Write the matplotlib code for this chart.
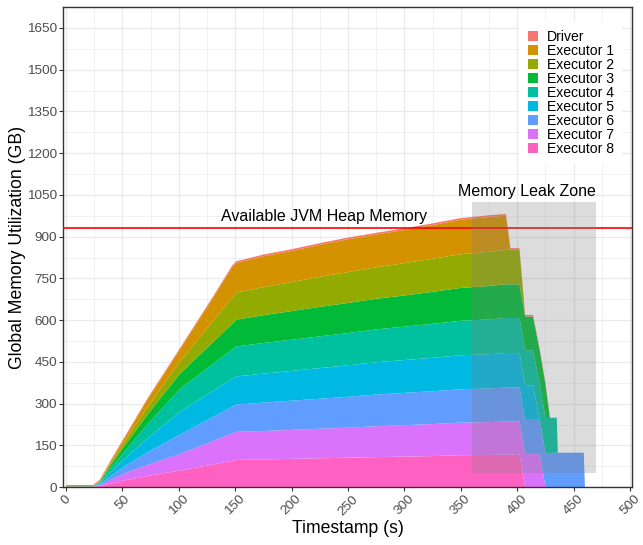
import matplotlib
matplotlib.use("Agg")
import matplotlib.pyplot as plt
from matplotlib.patches import Patch, Rectangle

plt.rcParams['font.family'] = ['Liberation Sans', 'DejaVu Sans']

# sample times (s)
t = [0, 24, 30, 40, 51, 72, 101, 131, 147, 151, 175, 200, 225, 250, 275, 300,
     325, 350, 375, 390, 394, 402, 407, 414, 420, 425, 429, 435, 436, 459, 460]

# memory per process (GB)
driver = [4, 4, 4, 4, 4, 4, 5, 5, 6, 6, 6, 6, 6, 6, 6, 6,
          6, 6, 6, 6, 6, 6, 6, 6, 6, 6, 0, 0, 0, 0, 0]
exec1 = [0.5, 0.5, 1.5, 6, 13, 27, 44, 84, 110, 107, 111, 112, 115, 118, 118, 119,
         121, 124, 125, 123, 0, 0, 0, 0, 0, 0, 0, 0, 0, 0, 0]
exec2 = [0.5, 0.5, 2, 8, 14, 27, 43, 77, 93, 97, 101, 104, 108, 111, 113, 116,
         119, 121, 123, 124, 124, 124, 0, 0, 0, 0, 0, 0, 0, 0, 0]
exec3 = [0.5, 0.5, 2.5, 11, 20, 35, 55, 79, 92, 96, 100, 103, 106, 108, 110, 112,
         115, 118, 120, 121, 121, 121, 121, 121, 121, 121, 0, 0, 0, 0, 0]
exec4 = [0.5, 0.5, 3.5, 15, 25, 50, 82, 97, 106, 108, 110, 112, 114, 116, 118, 120,
         122, 124, 125, 126, 126, 126, 126, 126, 126, 126, 126, 126, 0, 0, 0]
exec5 = [0.5, 0.5, 3.5, 15, 26, 50, 82, 94, 99, 101, 104, 107, 110, 113, 116, 118,
         120, 122, 123, 124, 124, 124, 124, 124, 0, 0, 0, 0, 0, 0, 0]
exec6 = [0.5, 0.5, 3.5, 14, 25, 45, 70, 87, 96, 98, 102, 105, 108, 111, 114, 116,
         118, 120, 121, 122, 122, 122, 123, 123, 123, 123, 123, 124, 124, 124, 0]
exec7 = [0.5, 0.5, 3.5, 14, 24, 40, 59, 85, 98, 101, 102, 104, 106, 108, 111, 113,
         115, 117, 118, 119, 119, 119, 119, 119, 119, 0, 0, 0, 0, 0, 0]
exec8 = [0.5, 0.5, 4, 13, 24, 40, 60, 82, 95, 98, 100, 102, 104, 106, 108, 110,
         112, 115, 116, 117, 117, 117, 0, 0, 0, 0, 0, 0, 0, 0, 0]

names = ['Driver', 'Executor 1', 'Executor 2', 'Executor 3', 'Executor 4',
         'Executor 5', 'Executor 6', 'Executor 7', 'Executor 8']
series = [driver, exec1, exec2, exec3, exec4, exec5, exec6, exec7, exec8]
colors = ['#F8766D', '#D39200', '#93AA00', '#00BA38', '#00C19F',
          '#00B9E3', '#619CFF', '#DB72FB', '#FF61C3']

heap_limit = 930
x_ticks = list(range(0, 501, 50))
y_ticks = list(range(0, 1651, 150))

fig = plt.figure(figsize=(6.43, 5.45), dpi=100)
ax = fig.add_axes([0.098, 0.106, 0.885, 0.881])

# ggplot stacks the first level on top
ax.stackplot(t, series[::-1], colors=colors[::-1], linewidth=0, zorder=2)

ax.axhline(heap_limit, color='red', lw=1.2, zorder=3)
ax.add_patch(Rectangle((360, 50), 110, 975, facecolor='#7F7F7F', alpha=0.27,
                       edgecolor='none', zorder=4))
ax.text(229, 971, 'Available JVM Heap Memory', ha='center', va='center',
        fontsize=11.5, zorder=5)
ax.text(409, 1061, 'Memory Leak Zone', ha='center', va='center',
        fontsize=11.5, zorder=5)

ax.set_xlim(-2.7, 501.8)
ax.set_ylim(0, 1692)
ax.set_xticks(x_ticks)
ax.set_yticks(y_ticks)
ax.set_xticks([x + 25 for x in x_ticks[:-1]], minor=True)
ax.set_yticks([y + 75 for y in y_ticks], minor=True)
ax.grid(which='major', color='#EBEBEB', lw=1.0, zorder=0)
ax.grid(which='minor', color='#EBEBEB', lw=0.5, zorder=0)
ax.set_axisbelow(True)
ax.tick_params(which='minor', length=0)
ax.tick_params(which='major', length=2.75, color='#333333', labelsize=9.7,
               labelcolor='#4D4D4D', pad=1.5)
plt.setp(ax.get_xticklabels(), rotation=45, ha='center', va='top')
for s in ax.spines.values():
    s.set_color('#333333')
    s.set_linewidth(1.0)

ax.set_xlabel('Timestamp (s)', fontsize=12.7, labelpad=2)
ax.set_ylabel('Global Memory Utilization (GB)', fontsize=12.7, labelpad=0.5)

handles = [Patch(facecolor=c, edgecolor='none') for c in colors]
leg = ax.legend(handles, names, loc='upper right', bbox_to_anchor=(0.995, 0.985),
                fontsize=10.1, frameon=True, fancybox=False, framealpha=1,
                edgecolor='none', facecolor='white', handlelength=0.75,
                handleheight=0.75, handletextpad=0.6, labelspacing=0.0,
                borderpad=0.6)
leg.set_zorder(6)

fig.savefig('out.png', dpi=100)
